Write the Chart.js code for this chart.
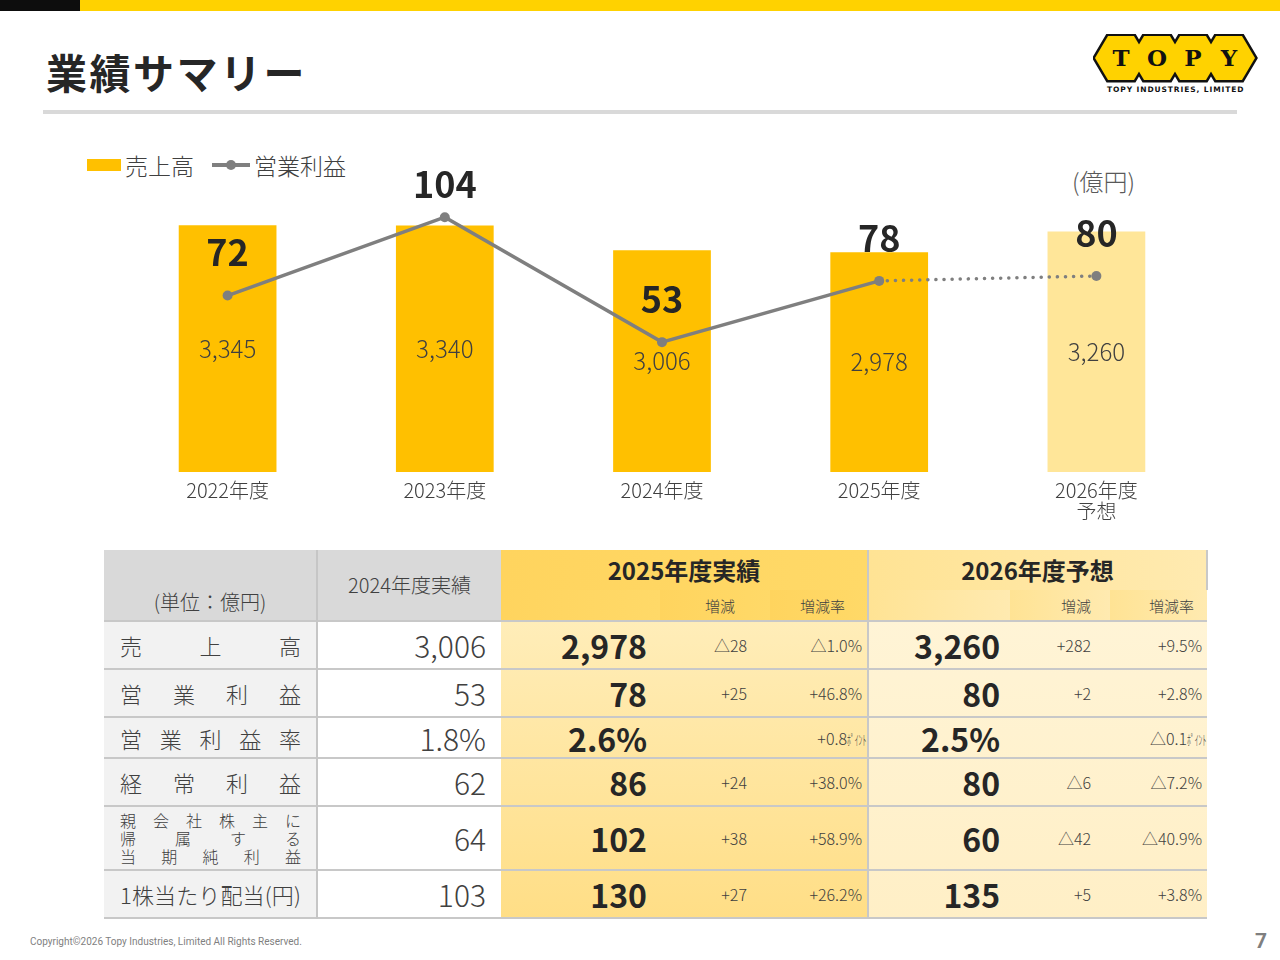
<!DOCTYPE html>
<html lang="ja">
<head>
<meta charset="utf-8">
<title>業績サマリー</title>
<script src="https://cdn.jsdelivr.net/npm/chart.js@4.4.1/dist/chart.umd.min.js"></script>
<style>
  html, body { margin: 0; padding: 0; background: #fff; }
  body { width: 1280px; height: 960px; position: relative; overflow: hidden;
         font-family: "Noto Sans CJK JP", "Noto Sans", sans-serif; color: #404040; }
  .abs { position: absolute; }
  #topBlack { left: 0; top: 0; width: 80px; height: 11px; background: #0d0d0d; }
  #topYellow { left: 80px; top: 0; width: 1200px; height: 11px; background: #FFD200; }
  #title { left: 46px; top: 45px; font-size: 41px; font-weight: 700; color: #262626; line-height: 52px; letter-spacing: 2.5px; }
  #rule { left: 43px; top: 110px; width: 1194px; height: 4px; background: #D9D9D9; }
  #logoSub { left: 1107px; top: 85px; font: bold 7.5px "DejaVu Sans", sans-serif; letter-spacing: 0.9px; color: #111; }
  #unit { left: 1072px; top: 163px; font-size: 24px; font-weight: 300; color: #595959; }
  #legend { left: 87px; top: 150px; font-size: 23px; font-weight: 300; color: #404040; display: flex; align-items: center; height: 30px; }
  .lgBar { width: 34px; height: 12px; background: #FFC000; margin-right: 4px; }
  .lgLine { position: relative; width: 38px; height: 4px; background: #7F7F7F; margin: 0 4px 0 18px; }
  .lgLine::after { content: ""; position: absolute; left: 14px; top: -3px; width: 10px; height: 10px; border-radius: 50%; background: #7F7F7F; }
  #chartBox { left: 119px; top: 140px; width: 1086px; height: 390px; }

  table { position: absolute; left: 104px; top: 550px; border-collapse: collapse; table-layout: fixed; width: 1103px; }
  th, td { padding: 0; box-sizing: border-box; white-space: nowrap; line-height: 1; }
  .gray { background: #D9D9D9; }
  .lab { background: #F2F2F2; padding: 0 15px 0 16px; font-size: 22px; font-weight: 300; color: #404040; border-right: 2px solid #C6C6C6; }
  .dist { display: flex; justify-content: space-between; }
  .small3 { font-size: 16px; }
  .small3 .dist { line-height: 18px; }
  .v24 { background: #fff; text-align: right; padding-right: 15px; font-size: 30px; font-weight: 300; color: #404040; }
  .h25 { background: linear-gradient(to right, #FFD45E, #FFD968); }
  .h26 { background: linear-gradient(to right, #FFE394, #FFEAB0); }
  .b25 { background: linear-gradient(to bottom, #FFEDB9 620px, #FFDE86 918px) fixed; }
  .b26 { background: linear-gradient(to bottom, #FFF4D6 620px, #FFEFC6 918px) fixed; }
  .big { text-align: right; font-size: 32px; font-weight: 700; color: #262626; }
  .sm { text-align: right; font-size: 16px; font-weight: 300; color: #404040; }
  .hdr { font-size: 24px; font-weight: 700; color: #262626; text-align: center; height: 40px; }
  .sub { font-size: 15px; font-weight: 300; color: #404040; text-align: right; height: 31px; }
  tbody tr { border-top: 2px solid #C8C8C8; }
  tbody tr:last-child { border-bottom: 2px solid #C8C8C8; }
  .sep { border-left: 2px solid #C8C8C8; }
  .pt { display: inline-block; font-size: 14px; transform: scaleX(0.55); transform-origin: left center; margin-right: -20px; }
  #copy { left: 30px; top: 936px; font-size: 10px; color: #7F7F7F; font-family: "Roboto", "Noto Sans", sans-serif; }
  #page { left: 1255px; top: 929px; font-size: 21px; font-weight: 700; color: #7F7F7F; font-family: "Roboto", sans-serif; }
</style>
</head>
<body>
<div id="topBlack" class="abs"></div>
<div id="topYellow" class="abs"></div>
<div id="title" class="abs">業績サマリー</div>
<div id="rule" class="abs"></div>

<svg class="abs" style="left:1093px;top:34px" width="166" height="50" viewBox="0 0 166 50">
  <g fill="#111" stroke="#111" stroke-width="5" stroke-linejoin="miter">
    <polygon points="2,24 15,2 41,2 54,24 41,46 15,46"/>
    <polygon points="38,24 51,2 77,2 90,24 77,46 51,46"/>
    <polygon points="74,24 87,2 113,2 126,24 113,46 87,46"/>
    <polygon points="110,24 123,2 149,2 162,24 149,46 123,46"/>
  </g>
  <g fill="#FFD200">
    <polygon points="2,24 15,2 41,2 54,24 41,46 15,46"/>
    <polygon points="38,24 51,2 77,2 90,24 77,46 51,46"/>
    <polygon points="74,24 87,2 113,2 126,24 113,46 87,46"/>
    <polygon points="110,24 123,2 149,2 162,24 149,46 123,46"/>
  </g>
  <g font-family="DejaVu Serif, serif" font-weight="bold" font-size="23" fill="#111" text-anchor="middle">
    <text x="28" y="32">T</text><text x="64" y="32">O</text><text x="100" y="32">P</text><text x="136" y="32">Y</text>
  </g>
</svg>
<div id="logoSub" class="abs">TOPY  INDUSTRIES, LIMITED</div>

<div id="legend" class="abs"><span class="lgBar"></span>売上高<span class="lgLine"></span>営業利益</div>
<div id="unit" class="abs">(億円)</div>

<div id="chartBox" class="abs"><canvas id="c"></canvas></div>

<table id="tbl">
  <colgroup>
    <col style="width:213px"><col style="width:184px"><col style="width:159px"><col style="width:110px"><col style="width:98px"><col style="width:142px"><col style="width:100px"><col style="width:97px">
  </colgroup>
  <thead>
    <tr>
      <th rowspan="2" class="gray" style="vertical-align:bottom;padding-bottom:8px;font-weight:300;font-size:20px;color:#404040;border-right:2px solid #C6C6C6;">(単位：億円)</th>
      <th rowspan="2" class="gray" style="font-weight:300;font-size:20px;color:#404040;">2024年度実績</th>
      <th colspan="3" class="h25 hdr">2025年度実績</th>
      <th colspan="3" class="h26 hdr sep" style="border-right:2px solid #C8C8C8;">2026年度予想</th>
    </tr>
    <tr>
      <td class="h25 sub"></td>
      <td class="h25 sub" style="padding-right:35px">増減</td>
      <td class="h25 sub" style="padding-right:22px">増減率</td>
      <td class="h26 sub sep"></td>
      <td class="h26 sub" style="padding-right:19px">増減</td>
      <td class="h26 sub" style="padding-right:13px">増減率</td>
    </tr>
  </thead>
  <tbody id="tb"></tbody>
</table>

<div id="copy" class="abs">Copyright©2026 Topy Industries, Limited All Rights Reserved.</div>
<div id="page" class="abs">7</div>

<script>
// chart data
const categories = [["2022年度"], ["2023年度"], ["2024年度"], ["2025年度"], ["2026年度", "予想"]];
const sales = [3345, 3340, 3006, 2978, 3260];
const opProfit = [72, 104, 53, 78, 80];
const barColors = ["#FFC000", "#FFC000", "#FFC000", "#FFC000", "#FFE699"];

// table data
const rowLabels = [["売上高"], ["営業利益"], ["営業利益率"], ["経常利益"], ["親会社株主に", "帰属する", "当期純利益"], ["1株当たり配当(円)"]];
const rowHeights = [48, 48, 41, 48, 64, 48];
const fy2024 = ["3,006", "53", "1.8%", "62", "64", "103"];
const fy2025 = ["2,978", "78", "2.6%", "86", "102", "130"];
const chg2025 = ["△28", "+25", "", "+24", "+38", "+27"];
const rate2025 = ["△1.0%", "+46.8%", "+0.8ﾎﾟｲﾝﾄ", "+38.0%", "+58.9%", "+26.2%"];
const fy2026 = ["3,260", "80", "2.5%", "80", "60", "135"];
const chg2026 = ["+282", "+2", "", "△6", "△42", "+5"];
const rate2026 = ["+9.5%", "+2.8%", "△0.1ﾎﾟｲﾝﾄ", "△7.2%", "△40.9%", "+3.8%"];

function distLine(text) {
  return '<div class="dist">' + Array.from(text).map(ch => "<span>" + ch + "</span>").join("") + "</div>";
}
function rateCell(s) {
  return s.replace("ﾎﾟｲﾝﾄ", '<span class="pt">ﾎﾟｲﾝﾄ</span>');
}

const tb = document.getElementById("tb");
rowLabels.forEach((lines, i) => {
  const tr = document.createElement("tr");
  tr.style.height = rowHeights[i] + "px";
  const labCls = lines.length > 1 ? "lab small3" : "lab";
  tr.innerHTML =
    '<td class="' + labCls + '">' + lines.map(distLine).join("") + "</td>" +
    '<td class="v24">' + fy2024[i] + "</td>" +
    '<td class="b25 big" style="padding-right:13px">' + fy2025[i] + "</td>" +
    '<td class="b25 sm" style="padding-right:23px">' + chg2025[i] + "</td>" +
    '<td class="b25 sm" style="padding-right:5px">' + rateCell(rate2025[i]) + "</td>" +
    '<td class="b26 big sep" style="padding-right:10px">' + fy2026[i] + "</td>" +
    '<td class="b26 sm" style="padding-right:19px">' + chg2026[i] + "</td>" +
    '<td class="b26 sm" style="padding-right:5px">' + rateCell(rate2026[i]) + "</td>";
  tb.appendChild(tr);
});

// draws the value labels on bars and above line points
const valueLabels = {
  id: "valueLabels",
  afterDatasetsDraw(chart) {
    const ctx = chart.ctx;
    const barMeta = chart.getDatasetMeta(0);
    const lineMeta = chart.getDatasetMeta(1);
    ctx.save();
    ctx.textAlign = "center";
    ctx.textBaseline = "middle";
    ctx.fillStyle = "#404040";
    ctx.font = '300 24px "Noto Sans CJK JP"';
    barMeta.data.forEach((bar, i) => {
      ctx.fillText(sales[i].toLocaleString("en-US"), bar.x, (bar.y + bar.base) / 2);
    });
    ctx.fillStyle = "#262626";
    ctx.font = 'bold 36px "Noto Sans CJK JP"';
    lineMeta.data.forEach((pt, i) => {
      // keep the highest label inside the plot area
      const y = Math.max(pt.y - 43, chart.chartArea.top + 44);
      ctx.fillText(String(opProfit[i]), pt.x, y);
    });
    ctx.restore();
  },
};

Chart.defaults.font.family = '"Noto Sans CJK JP", sans-serif';

new Chart(document.getElementById("c"), {
  data: {
    labels: categories,
    datasets: [
      {
        type: "bar",
        label: "売上高",
        data: sales,
        backgroundColor: barColors,
        categoryPercentage: 1,
        barPercentage: 0.45,
        yAxisID: "ySales",
        order: 2,
      },
      {
        type: "line",
        label: "営業利益",
        data: opProfit,
        borderColor: "#7F7F7F",
        backgroundColor: "#7F7F7F",
        borderWidth: 3.5,
        borderCapStyle: "round",
        pointRadius: 5,
        pointBorderWidth: 0,
        pointBackgroundColor: "#7F7F7F",
        yAxisID: "yProfit",
        order: 1,
        segment: {
          borderDash: (c) => (c.p1DataIndex === 4 ? [0.1, 8] : undefined),
        },
      },
    ],
  },
  options: {
    responsive: true,
    maintainAspectRatio: false,
    animation: false,
    layout: { padding: 0, autoPadding: false },
    plugins: {
      legend: { display: false },
      tooltip: { enabled: false },
    },
    scales: {
      x: {
        grid: { display: false, drawTicks: false },
        border: { display: false },
        ticks: {
          color: "#404040",
          padding: 8,
          font: { size: 20, weight: "300", lineHeight: 1.05 },
        },
      },
      ySales: {
        display: false,
        min: 0,
        max: 4500,
      },
      yProfit: {
        display: false,
        min: 0,
        max: 135.5,
      },
    },
  },
  plugins: [valueLabels],
});
</script>
</body>
</html>
